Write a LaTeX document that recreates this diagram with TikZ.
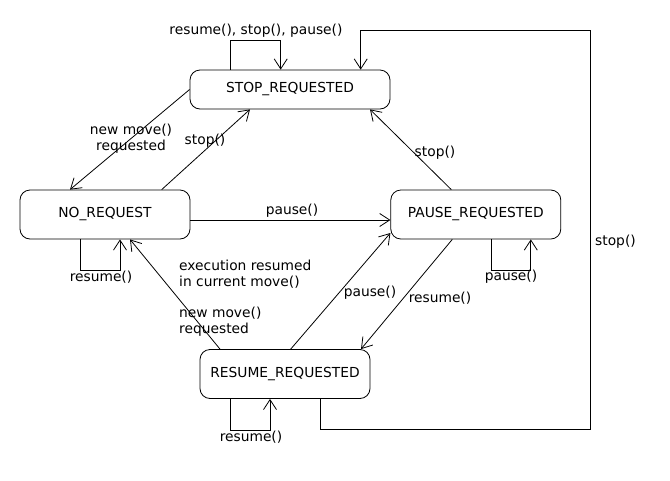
\documentclass[tikz,border=0pt]{standalone}
\usepackage{fontspec}
\setmainfont{DejaVu Sans}
\usetikzlibrary{arrows.meta, positioning}
\tikzset{
  state/.style={rectangle, draw, rounded corners=10pt,
    minimum width=170pt, minimum height=49pt, line width=0.8pt, inner sep=0pt},
  trans/.style={-{Straight Barb[length=10pt,width=13pt]}, line width=0.8pt},
  lbl/.style={inner sep=0pt, align=center}
}
\begin{document}
\begin{tikzpicture}[x=1pt, y=-1pt, font=\fontsize{13.8}{16}\selectfont]
  \useasboundingbox (0,0) rectangle (670,480);
  % states
  \node[state] (nor) at (105,214.5) {NO\_REQUEST};
  \node[state, right=200pt of nor] (pause) {PAUSE\_REQUESTED};
  \node[state, minimum width=200pt, minimum height=39pt] (stop) at (290,89.5) {STOP\_REQUESTED};
  \node[state] (resume) at (285,374) {RESUME\_REQUESTED};
  \coordinate (corner) at (590,30);

  % transitions
  \draw[trans] (stop.west) -- ([xshift=-35pt]nor.north);
  \draw[trans] ([xshift=56.7pt]nor.north) -- ([xshift=-40pt]stop.south);
  \draw[trans] ([yshift=-5.5pt]nor.east) -- ([yshift=-5.5pt]pause.west);
  \draw[trans] ([xshift=-24.5pt]pause.north) -- ([xshift=80pt]stop.south);
  \draw[trans] ([xshift=5.7pt]resume.north) -- ([yshift=-18.5pt]pause.west);
  \draw[trans] ([xshift=-23.5pt]pause.south) -- ([xshift=76pt]resume.north);
  \draw[trans] ([xshift=-65pt]resume.north) -- ([xshift=25pt]nor.south);
  \draw[trans] ([xshift=35.7pt]resume.south) |- (590,429) -- (corner) -| ([xshift=70.7pt]stop.north);

  % self loops
  \draw[trans] ([xshift=-60pt]stop.north) -- ++(0,-29.3) -| ([xshift=-9.3pt]stop.north);
  \draw[trans] ([xshift=-25pt]nor.south) -- ++(0,31) -| ([xshift=15pt]nor.south);
  \draw[trans] ([xshift=15.7pt]pause.south) -- ++(0,31) -| ([xshift=55pt]pause.south);
  \draw[trans] ([xshift=-55pt]resume.south) -- ++(0,31) -| ([xshift=-15pt]resume.south);

  % labels
  \node[lbl] (lstopself) at (256,31) {resume(), stop(), pause()};
  \node[lbl] (lnewtop) at (131,139) {new move()\\requested};
  \node[lbl] (lstopnor) at (205,141) {stop()};
  \node[lbl] (lpausenor) at (292,211) {pause()};
  \node[lbl] (lstoppause) at (435,153) {stop()};
  \node[lbl] (lresnor) at (101,277) {resume()};
  \node[lbl] (lpauseself) at (511,277) {pause()};
  \node[lbl, align=left, anchor=west] (lexec) at (179,274) {execution resumed\\in current move()};
  \node[lbl, align=left, anchor=west] (lnewbot) at (179,322) {new move()\\requested};
  \node[lbl] (lpauseres) at (370,293) {pause()};
  \node[lbl] (lrespause) at (440,298) {resume()};
  \node[lbl] (lresself) at (251,437) {resume()};
  \node[lbl, anchor=west] (lstopbig) at (595,242) {stop()};
\end{tikzpicture}
\end{document}
